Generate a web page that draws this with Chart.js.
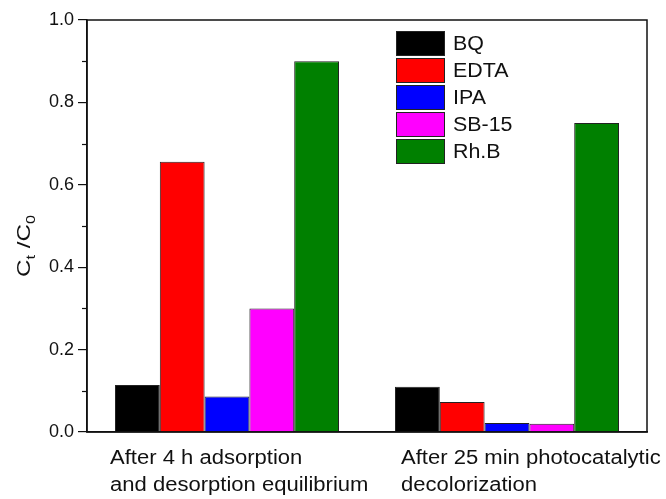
<!DOCTYPE html>
<html>
<head>
<meta charset="utf-8">
<script src="https://cdn.jsdelivr.net/npm/chart.js@4.4.0/dist/chart.umd.min.js"></script>
<style>
html,body{margin:0;padding:0;background:#fff;}
#wrap{width:666px;height:499px;position:relative;}
</style>
</head>
<body>
<div id="wrap"><canvas id="c" width="666" height="499"></canvas></div>
<script>
// ---- data ----
const categories = [
  ["After 4 h adsorption", "and desorption equilibrium"],
  ["After 25 min photocatalytic", "decolorization"]
];
const seriesNames = ["BQ", "EDTA", "IPA", "SB-15", "Rh.B"];
const BQ   = [0.114, 0.110];
const EDTA = [0.656, 0.073];
const IPA  = [0.086, 0.022];
const SB15 = [0.300, 0.020];
const RhB  = [0.900, 0.750];
const yTicks = [0.0, 0.2, 0.4, 0.6, 0.8, 1.0];
const yMinorTicks = [0.1, 0.3, 0.5, 0.7, 0.9];

const seriesValues = [BQ, EDTA, IPA, SB15, RhB];
const colors = ["#000000", "#ff0000", "#0000ff", "#ff00ff", "#008000"];
const FONT = "'Liberation Sans', Arial, sans-serif";

const datasets = seriesNames.map((n, i) => ({
  label: n,
  data: seriesValues[i],
  backgroundColor: colors[i],
  borderColor: "#222",
  borderWidth: 1,
  borderSkipped: "bottom",
  categoryPercentage: 0.8,
  barPercentage: 1.0
}));

const framePlugin = {
  id: "frame",
  afterDraw(chart) {
    const ctx = chart.ctx;
    const a = chart.chartArea;
    const y = chart.scales.y;
    const x = chart.scales.x;
    ctx.save();
    // frame
    ctx.strokeStyle = "#111";
    ctx.lineWidth = 1.5;
    ctx.strokeRect(a.left, a.top, a.right - a.left, a.bottom - a.top);
    // minor ticks
    ctx.lineWidth = 1.2;
    yMinorTicks.forEach(v => {
      const py = Math.round(y.getPixelForValue(v)) + 0.5;
      ctx.beginPath();
      ctx.moveTo(a.left - 5, py);
      ctx.lineTo(a.left, py);
      ctx.stroke();
    });
    // x labels (left-aligned, two lines, slightly wide type)
    ctx.fillStyle = "#111";
    ctx.font = "19.5px " + FONT;
    ctx.textAlign = "left";
    ctx.textBaseline = "alphabetic";
    const offsets = [117, 106];
    const sx = 1.13;
    categories.forEach((lines, i) => {
      const cx = x.getPixelForValue(i);
      lines.forEach((t, k) => {
        ctx.save();
        ctx.translate(cx - offsets[i], a.bottom + 32 + k * 27);
        ctx.scale(sx, 1);
        ctx.fillText(t, 0, 0);
        ctx.restore();
      });
    });
    // y title C_t /C_0
    ctx.save();
    ctx.translate(24, 246);
    ctx.rotate(-Math.PI / 2);
    ctx.scale(1.35, 1);
    ctx.textAlign = "left";
    const big = "18px " + FONT, small = "12px " + FONT;
    const parts = [["C", big, 0], ["t", small, 5], [" /C", big, 0], ["0", small, 5]];
    let w = 0;
    parts.forEach(p => { ctx.font = p[1]; w += ctx.measureText(p[0]).width; });
    let px = -w / 2;
    parts.forEach(p => {
      ctx.font = p[1];
      ctx.fillText(p[0], px, 6 + p[2]);
      px += ctx.measureText(p[0]).width;
    });
    ctx.restore();
    // legend
    const lx = 396, ly = 31, bw = 49, bh = 25, step = 27;
    ctx.font = "20px " + FONT;
    ctx.textBaseline = "middle";
    ctx.lineWidth = 1;
    chart.data.datasets.forEach((d, i) => {
      const ty = ly + i * step;
      ctx.fillStyle = d.backgroundColor;
      ctx.fillRect(lx, ty, bw, bh);
      ctx.strokeStyle = "#222";
      ctx.strokeRect(lx + 0.5, ty + 0.5, bw - 1, bh - 1);
      ctx.fillStyle = "#111";
      ctx.save();
      ctx.translate(lx + 57, ty + bh / 2 + 1);
      ctx.scale(1.07, 1);
      ctx.fillText(d.label, 0, 0);
      ctx.restore();
    });
    ctx.restore();
  }
};

new Chart(document.getElementById("c"), {
  type: "bar",
  data: { labels: categories, datasets },
  options: {
    responsive: false,
    animation: false,
    devicePixelRatio: 1,
    layout: { padding: { top: 20, right: 19, left: 0, bottom: 0 } },
    plugins: { legend: { display: false }, tooltip: { enabled: false } },
    scales: {
      x: {
        grid: { display: false },
        border: { display: true, color: "#111", width: 1.5 },
        ticks: { display: false },
        afterFit(s) { s.height = 67; }
      },
      y: {
        min: 0, max: 1,
        afterBuildTicks(s) { s.ticks = yTicks.map(v => ({ value: v })); },
        ticks: {
          color: "#111",
          font: { family: FONT, size: 18 },
          padding: 4,
          callback: v => Number(v).toFixed(1)
        },
        grid: { drawOnChartArea: false, drawTicks: true, tickLength: 9, color: "#111", lineWidth: 1.2 },
        border: { display: true, color: "#111", width: 1.5 },
        afterFit(s) { s.width = 87; }
      }
    }
  },
  plugins: [framePlugin]
});
</script>
</body>
</html>
